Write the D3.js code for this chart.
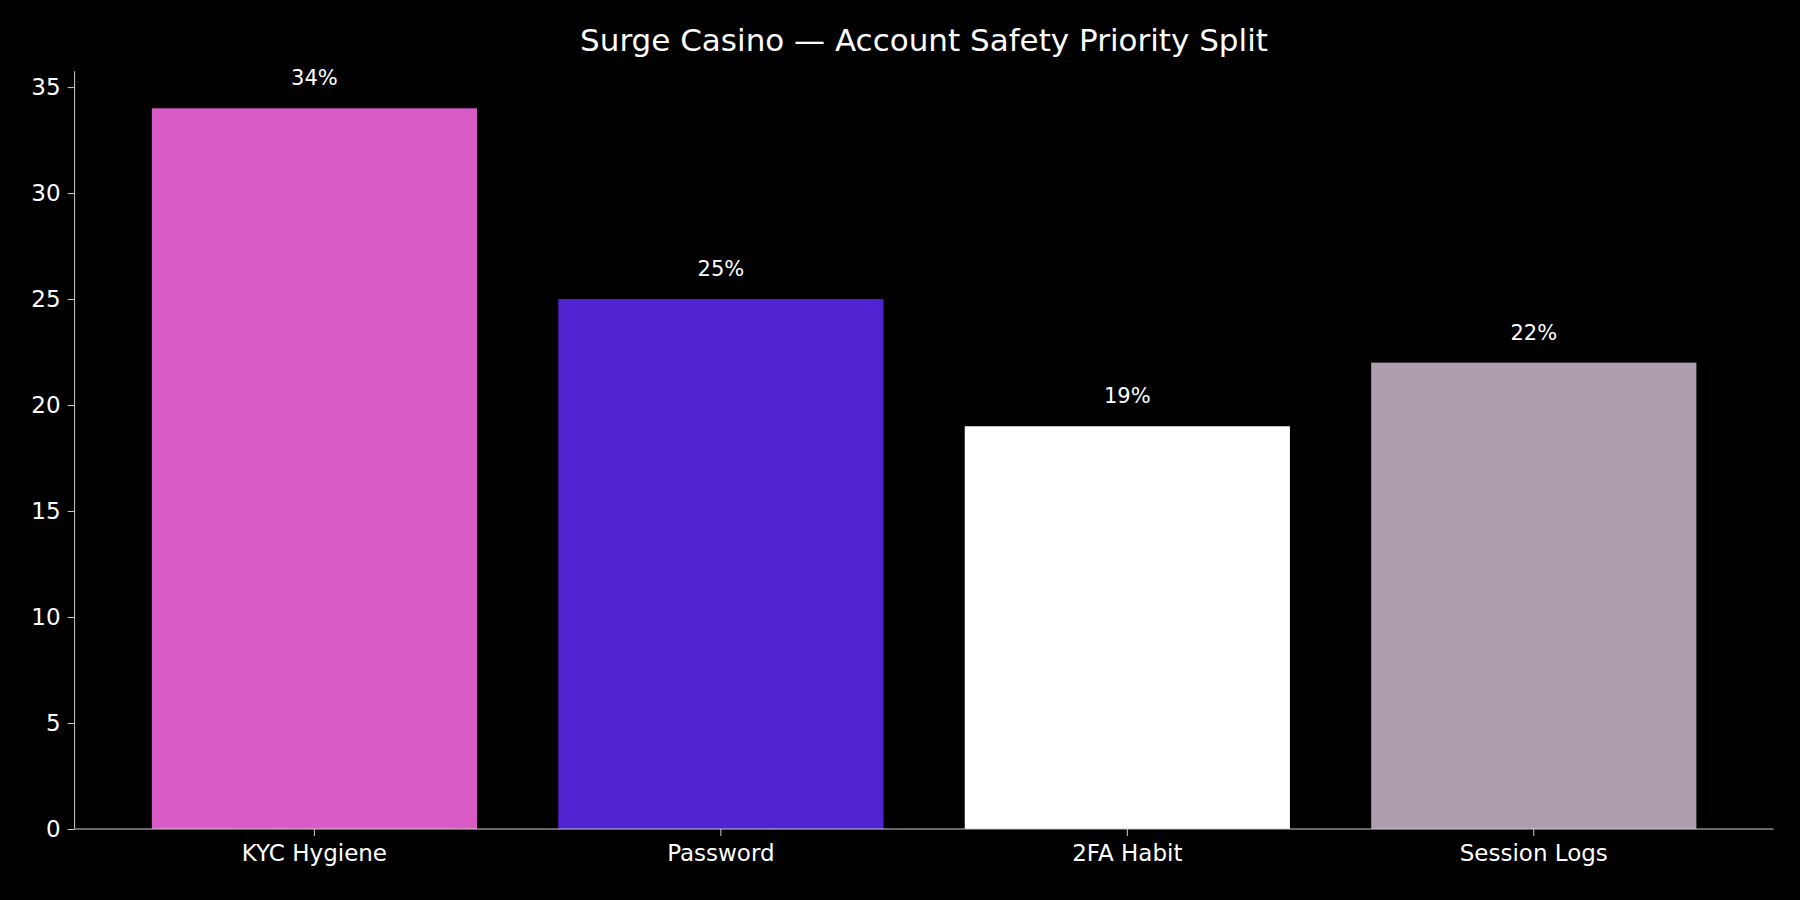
<!DOCTYPE html>
<html><head><meta charset="utf-8">
<script src="https://cdn.jsdelivr.net/npm/d3@7"></script>
<style>body{margin:0;background:#000}svg{display:block}</style>
</head><body><svg id="c" width="1800" height="900"></svg>
<script>
const categories = ["KYC Hygiene","Password","2FA Habit","Session Logs"];
const values = [34,25,19,22];
const colors = ["#d95bc5","#4f24d0","#ffffff","#ae9fae"];
const yTicks = [0,5,10,15,20,25,30,35];
const title = "Surge Casino — Account Safety Priority Split";

const svg = d3.select("#c");
const font = "DejaVu Sans, sans-serif";
svg.append("rect").attr("width",1800).attr("height",900).attr("fill","#000");
const L=74.6,R=1773.6,T=71.2,B=829;
const x = d3.scaleBand().domain(categories).range([L,R]).paddingInner(0.2).paddingOuter(0.19);
const y = d3.scaleLinear().domain([0,35.75]).range([B,T]);

svg.selectAll(".bar").data(values).enter().append("rect")
  .attr("x",(d,i)=>x(categories[i])).attr("width",x.bandwidth())
  .attr("y",d=>y(d)).attr("height",d=>B-y(d)).attr("fill",(d,i)=>colors[i]);

svg.selectAll(".lbl").data(values).enter().append("text")
  .attr("x",(d,i)=>x(categories[i])+x.bandwidth()/2).attr("y",d=>y(d)-23)
  .attr("text-anchor","middle").attr("fill","#fff").attr("font-family",font).attr("font-size",21)
  .text(d=>d+"%");

const ya = svg.append("g").attr("transform",`translate(${L},0)`)
  .call(d3.axisLeft(y).tickValues(yTicks).tickSize(7).tickPadding(7));
const xa = svg.append("g").attr("transform",`translate(0,${B})`)
  .call(d3.axisBottom(x).tickSize(7).tickPadding(9));
[ya,xa].forEach(a=>{
  a.selectAll("path,line").attr("stroke","#ccc");
  a.selectAll("text").attr("fill","#fff").attr("font-family",font).attr("font-size",23);
});
ya.select(".domain").attr("d",`M0,${T}V${B}`);
xa.select(".domain").attr("d",`M${L},0H${R}`);

svg.append("text").attr("x",924).attr("y",51).attr("text-anchor","middle")
  .attr("fill","#fff").attr("font-family",font).attr("font-size",31).text(title);
</script></body></html>
